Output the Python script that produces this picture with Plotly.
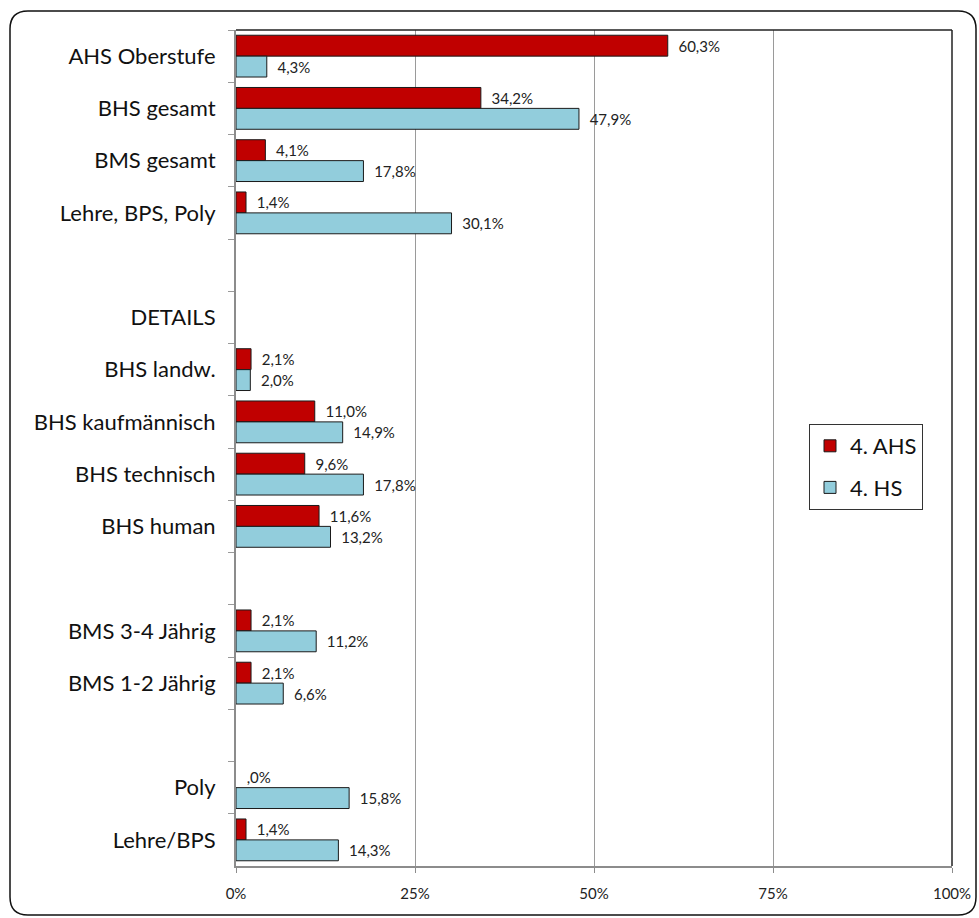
import plotly.graph_objects as go

categories = ["AHS Oberstufe", "BHS gesamt", "BMS gesamt", "Lehre, BPS, Poly", " ",
              "DETAILS", "BHS landw.", "BHS kaufmännisch", "BHS technisch", "BHS human", "  ",
              "BMS 3-4 Jährig", "BMS 1-2 Jährig", "   ", "Poly", "Lehre/BPS"]
ahs_values = [60.3, 34.2, 4.1, 1.4, None, None, 2.1, 11.0, 9.6, 11.6, None, 2.1, 2.1, None, 0.0, 1.4]
hs_values = [4.3, 47.9, 17.8, 30.1, None, None, 2.0, 14.9, 17.8, 13.2, None, 11.2, 6.6, None, 15.8, 14.3]
x_tickvals = [0, 25, 50, 75, 100]
x_ticktext = ["0%", "25%", "50%", "75%", "100%"]
series_names = ["4. AHS", "4. HS"]


def fmt(v):
    if v is None:
        return ""
    s = f"{v:.1f}".replace(".", ",")
    if s.startswith("0,"):
        s = s[1:]
    return "\u00a0\u00a0" + s + "%"


def outline(vals):
    return [0 if (v is None or v == 0) else 1 for v in vals]


W, H = 979, 918
L, R, T, B = 236, 952, 30, 866
fig = go.Figure()
fig.add_trace(go.Bar(y=categories, x=ahs_values, orientation="h", name=series_names[0],
                     marker=dict(color="#C00000", line=dict(color="#1a1a1a", width=outline(ahs_values))),
                     text=[fmt(v) for v in ahs_values], textposition="outside",
                     textfont=dict(family="Lato", size=15, color="#222"), cliponaxis=False,
                     legendgroup="a"))
fig.add_trace(go.Bar(y=categories, x=hs_values, orientation="h", name=series_names[1],
                     marker=dict(color="#92CDDC", line=dict(color="#1a1a1a", width=outline(hs_values))),
                     text=[fmt(v) for v in hs_values], textposition="outside",
                     textfont=dict(family="Lato", size=15, color="#222"), cliponaxis=False,
                     legendgroup="b"))


def px(x):
    return (x - L) / (R - L)


def py(y):
    return (B - y) / (B - T)


bl, br, bt, bb, r = 10, 976, 11, 915, 18
path = (f"M {px(bl+r)},{py(bt)} L {px(br-r)},{py(bt)} Q {px(br)},{py(bt)} {px(br)},{py(bt+r)} "
        f"L {px(br)},{py(bb-r)} Q {px(br)},{py(bb)} {px(br-r)},{py(bb)} "
        f"L {px(bl+r)},{py(bb)} Q {px(bl)},{py(bb)} {px(bl)},{py(bb-r)} "
        f"L {px(bl)},{py(bt+r)} Q {px(bl)},{py(bt)} {px(bl+r)},{py(bt)} Z")

fig.update_layout(
    width=W, height=H,
    margin=dict(l=L, r=W - R, t=T, b=H - B),
    paper_bgcolor="white", plot_bgcolor="white",
    barmode="group", bargap=0.2, bargroupgap=0,
    showlegend=True,
    legend=dict(x=px(809), y=py(424), xanchor="left", yanchor="top",
                bgcolor="white", bordercolor="#333", borderwidth=1,
                font=dict(family="Lato", size=22, color="#111"),
                traceorder="grouped", tracegroupgap=10),
    xaxis=dict(range=[0, 100], tickvals=x_tickvals, ticktext=x_ticktext,
               showgrid=True, gridcolor="#9a9a9a", gridwidth=1,
               showline=True, linecolor="#8c8c8c", linewidth=2,
               ticks="outside", ticklen=5, tickcolor="#8c8c8c",
               ticklabelstandoff=8, automargin=False,
               tickfont=dict(family="Lato", size=15, color="#222"),
               zeroline=False, fixedrange=True),
    yaxis=dict(autorange="reversed", type="category",
               showline=True, linecolor="#8c8c8c", linewidth=2,
               ticks="outside", ticklen=6, tickcolor="#9a9a9a", tickson="boundaries",
               ticklabelstandoff=14, automargin=False,
               tickfont=dict(family="Lato", size=22, color="#111"),
               showgrid=False, fixedrange=True),
    shapes=[
        dict(type="path", xref="paper", yref="paper", path=path,
             line=dict(color="#111", width=1.5), layer="below"),
        dict(type="line", xref="paper", yref="paper", x0=0, x1=1, y0=1, y1=1,
             line=dict(color="#222", width=1.5)),
        dict(type="line", xref="paper", yref="paper", x0=1, x1=1, y0=0, y1=1,
             line=dict(color="#222", width=1.5)),
    ],
)
fig.update_traces(constraintext="none")
fig.write_html("out.html", config={"displayModeBar": False},
               post_script="document.body.style.margin='0px';document.body.style.overflow='hidden';")
